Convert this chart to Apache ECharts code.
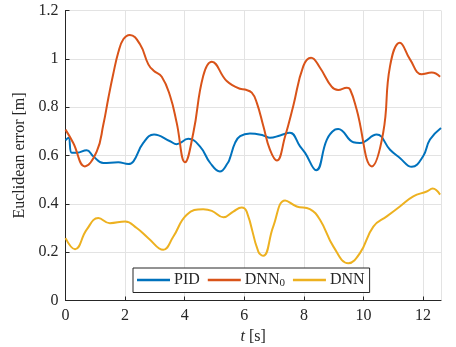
<!DOCTYPE html>
<html>
<head>
<meta charset="utf-8">
<script src="https://cdn.jsdelivr.net/npm/echarts@6/dist/echarts.min.js"></script>
<style>
  html, body { margin: 0; padding: 0; background: #fff; }
  #chart { width: 456px; height: 347px; }
</style>
</head>
<body>
<div id="chart"></div>
<script>
// time samples [s] and euclidean error [m]
const pidT = [0, 0.1, 0.21, 0.38, 0.71, 0.93, 1.27, 1.77, 2.11, 2.28, 2.61, 2.97, 3.51, 3.73, 4.12, 4.51, 4.85, 5.18, 5.45, 5.52, 5.69, 5.86, 6.19, 6.64, 6.86, 7.2, 7.53, 7.87, 8.04, 8.41, 8.77, 9.04, 9.15, 9.66, 9.88, 10.44, 10.89, 11.22, 11.62, 12.0, 12.23, 12.6];
const pidY = [0.663, 0.673, 0.611, 0.611, 0.622, 0.597, 0.569, 0.572, 0.565, 0.576, 0.652, 0.687, 0.659, 0.647, 0.669, 0.638, 0.57, 0.534, 0.57, 0.59, 0.652, 0.680, 0.691, 0.683, 0.673, 0.683, 0.694, 0.638, 0.611, 0.539, 0.666, 0.707, 0.710, 0.655, 0.652, 0.687, 0.624, 0.59, 0.553, 0.597, 0.666, 0.714];

const dnn0T = [0, 0.26, 0.65, 1.05, 1.27, 1.44, 1.6, 1.77, 1.94, 2.16, 2.5, 2.78, 2.95, 3.23, 3.51, 3.73, 4.01, 4.29, 4.62, 4.91, 5.41, 5.86, 6.02, 6.25, 6.42, 6.64, 6.86, 7.09, 7.37, 7.64, 7.98, 8.24, 8.54, 8.93, 9.15, 9.44, 9.55, 9.77, 10.28, 10.66, 10.89, 11.22, 11.56, 11.95, 12.29, 12.57];
const dnn0Y = [0.707, 0.652, 0.555, 0.617, 0.728, 0.839, 0.936, 1.026, 1.081, 1.099, 1.06, 0.977, 0.952, 0.926, 0.846, 0.736, 0.572, 0.694, 0.929, 0.988, 0.908, 0.876, 0.873, 0.86, 0.818, 0.721, 0.624, 0.579, 0.68, 0.804, 0.970, 1.005, 0.963, 0.885, 0.871, 0.880, 0.873, 0.79, 0.555, 0.694, 0.970, 1.067, 0.998, 0.936, 0.943, 0.926];

const dnnT = [0, 0.32, 0.71, 1.1, 1.49, 2.0, 2.39, 2.78, 3.28, 3.62, 4.07, 4.62, 4.91, 5.3, 5.63, 5.91, 6.08, 6.47, 6.64, 6.97, 7.37, 7.76, 8.2, 8.54, 8.99, 9.49, 9.88, 10.33, 10.78, 11.22, 11.67, 12.12, 12.32, 12.57];
const dnnY = [0.258, 0.212, 0.293, 0.341, 0.320, 0.327, 0.300, 0.258, 0.210, 0.265, 0.355, 0.378, 0.371, 0.344, 0.368, 0.385, 0.368, 0.202, 0.185, 0.306, 0.414, 0.389, 0.378, 0.334, 0.223, 0.154, 0.196, 0.306, 0.348, 0.389, 0.431, 0.451, 0.463, 0.438];

const seriesNames = ['PID', 'DNN0', 'DNN'];
const colors = ['#0072BD', '#D95319', '#EDB120'];

const zip = (t, y) => t.map((v, i) => [v, y[i]]);
const font = 'Liberation Serif';
const axisColor = '#262626';

const chart = echarts.init(document.getElementById('chart'));

const mkSeries = (name, t, y, i) => ({
  name: name,
  type: 'line',
  data: zip(t, y),
  showSymbol: false,
  smooth: 0.45,
  lineStyle: { width: 2, color: colors[i] },
  itemStyle: { color: colors[i] },
  z: 3 + i
});

chart.setOption({
  animation: false,
  textStyle: { fontFamily: font },
  grid: { left: 65.5, right: 15, top: 10.5, bottom: 46.5, containLabel: false, outerBoundsMode: 'none' },
  xAxis: {
    type: 'value',
    min: 0,
    max: 12.6,
    interval: 2,
    name: '{i|t} [s]',
    nameLocation: 'middle',
    nameGap: 24,
    nameTextStyle: {
      fontFamily: font, fontSize: 16, color: axisColor,
      rich: { i: { fontFamily: font, fontStyle: 'italic', fontSize: 16, color: axisColor } }
    },
    axisLine: { show: true, onZero: false, lineStyle: { color: axisColor, width: 1 } },
    axisTick: { show: true, inside: true, length: 4, lineStyle: { color: axisColor } },
    axisLabel: { fontFamily: font, fontSize: 16, color: axisColor, margin: 7, showMaxLabel: false },
    splitLine: { show: true, lineStyle: { color: '#e3e3e3', width: 1 } }
  },
  yAxis: {
    type: 'value',
    min: 0,
    max: 1.2,
    interval: 0.2,
    name: 'Euclidean error [m]',
    nameLocation: 'middle',
    nameGap: 33,
    nameTextStyle: { fontFamily: font, fontSize: 16, color: axisColor },
    axisLine: { show: true, lineStyle: { color: axisColor, width: 1 } },
    axisTick: { show: true, inside: true, length: 4, lineStyle: { color: axisColor } },
    axisLabel: {
      fontFamily: font, fontSize: 16, color: axisColor, margin: 7,
      formatter: v => String(Math.round(v * 10) / 10)
    },
    splitLine: { show: true, lineStyle: { color: '#e3e3e3', width: 1 } }
  },
  legend: {
    data: seriesNames,
    left: 133,
    top: 268,
    orient: 'horizontal',
    backgroundColor: '#fff',
    borderColor: axisColor,
    borderWidth: 1,
    borderRadius: 0,
    padding: [4, 5, 4, 4],
    itemGap: 8,
    itemWidth: 33,
    itemHeight: 2.5,
    icon: 'rect',
    formatter: n => n === 'DNN0' ? '{b|DNN}{s|0}' : '{b|' + n + '}',
    textStyle: {
      fontFamily: font, fontSize: 16, color: axisColor, padding: [0, 0, 0, -1],
      rich: {
        b: { fontFamily: font, fontSize: 16, color: axisColor },
        s: { fontFamily: font, fontSize: 11, color: axisColor, verticalAlign: 'bottom', padding: [6, 0, 0, 0] }
      }
    }
  },
  series: [
    mkSeries('PID', pidT, pidY, 0),
    mkSeries('DNN0', dnn0T, dnn0Y, 1),
    mkSeries('DNN', dnnT, dnnY, 2)
  ]
});
</script>
</body>
</html>
